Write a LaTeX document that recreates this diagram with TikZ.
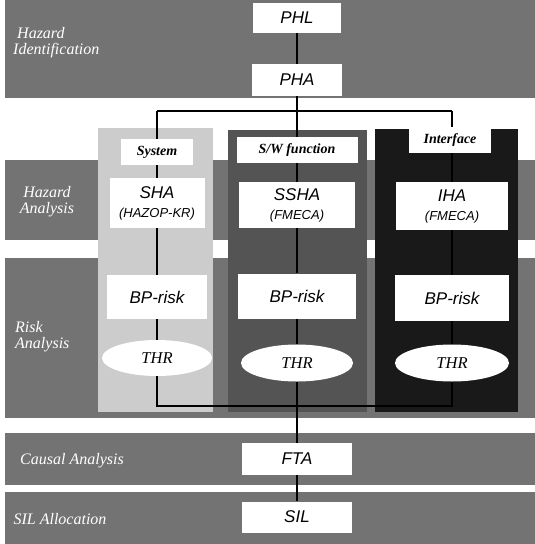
\documentclass[tikz,border=0pt]{standalone}
\usepackage{fontspec}
\setmainfont{Liberation Serif}
\setsansfont{Liberation Sans}
\usetikzlibrary{shapes.geometric}
\definecolor{bandc}{gray}{0.45}
\definecolor{syscol}{gray}{0.80}
\definecolor{swcol}{gray}{0.33}
\definecolor{ifcol}{gray}{0.10}
\tikzset{
  wbox/.style={fill=white, inner sep=0pt, align=center, font=\sffamily\itshape\fontsize{17}{18}\selectfont},
  headbox/.style={fill=white, inner sep=0pt, font=\rmfamily\bfseries\itshape\fontsize{14}{15}\selectfont},
  thrbox/.style={ellipse, fill=white, inner sep=0pt, font=\rmfamily\itshape\fontsize{16.5}{17}\selectfont},
  bandlabel/.style={text=white, inner sep=0pt, font=\rmfamily\itshape\fontsize{16}{16}\selectfont},
  conn/.style={draw=black, line width=2.2pt},
}
\newcommand{\subtxt}[1]{{\fontsize{13}{14}\selectfont #1}}
\begin{document}
\begin{tikzpicture}[x=1pt,y=-1pt]
\useasboundingbox (0,0) rectangle (535,544);
% bands
\fill[bandc] (5,0) rectangle (535,98);
\fill[bandc] (5,160) rectangle (535,240);
\fill[bandc] (5,258) rectangle (535,418);
\fill[bandc] (5,433) rectangle (535,485);
\fill[bandc] (5,492) rectangle (535,544);
% columns
\fill[syscol] (98,128) rectangle (213,412);
\fill[swcol] (228,130) rectangle (367,412);
\fill[ifcol] (375,129) rectangle (518,412);
% band labels
\node[bandlabel, align=left, anchor=north west] (lab1) at (13,27) {\hspace*{4pt}Hazard\\Identification};
\node[bandlabel, align=center] (lab2) at (47,202) {Hazard\\Analysis};
\node[bandlabel, align=left, anchor=north west] (lab3) at (15,321) {Risk\\Analysis};
\node[bandlabel] (lab4) at (72,461) {Causal Analysis};
\node[bandlabel] (lab5) at (60,519) {SIL Allocation};
% top
\node[wbox, minimum width=88, minimum height=30] (phl) at (297,18) {PHL};
\node[wbox, minimum width=90, minimum height=32] (pha) at (297,80) {PHA};
% headers
\node[headbox, minimum width=72, minimum height=26] (syshead) at (157,152) {System};
\node[headbox, minimum width=121, minimum height=26] (swhead) at (297,150) {S/W function};
\node[headbox, minimum width=82, minimum height=26] (ifhead) at (450,140) {Interface};
% analysis boxes
\node[wbox, minimum width=95, minimum height=50] (sha) at (157,203) {SHA\\[1pt]\subtxt{(HAZOP-KR)}};
\node[wbox, minimum width=116, minimum height=46] (ssha) at (297,205) {SSHA\\[1pt]\subtxt{(FMECA)}};
\node[wbox, minimum width=112, minimum height=48] (iha) at (452,206) {IHA\\[1pt]\subtxt{(FMECA)}};
% BP-risk
\node[wbox, minimum width=100, minimum height=44] (sysbp) at (157,297) {BP-risk};
\node[wbox, minimum width=118, minimum height=45] (swbp) at (297,296) {BP-risk};
\node[wbox, minimum width=114, minimum height=46] (ifbp) at (452,298) {BP-risk};
% THR
\node[thrbox, minimum width=110, minimum height=36] (systhr) at (157,358) {THR};
\node[thrbox, minimum width=112, minimum height=37] (swthr) at (297,363) {THR};
\node[thrbox, minimum width=114, minimum height=37] (ifthr) at (452,363) {THR};
% bottom
\node[wbox, minimum width=110, minimum height=32] (fta) at (297,459) {FTA};
\node[wbox, minimum width=110, minimum height=31] (sil) at (297,517) {SIL};
% connectors
\coordinate (jl) at (157,111);
\coordinate (jr) at (452,111);
\coordinate (bl) at (157,406);
\coordinate (br) at (452,406);
\draw[conn] (phl) -- (pha);
\draw[conn] (pha) -- (swhead);
\draw[conn] (jl) -- (jr);
\draw[conn] (jl) -- (syshead);
\draw[conn] (jr) -- (jr |- ifhead.north);
\draw[conn] (syshead) -- (sha);
\draw[conn] (sha) -- (sysbp);
\draw[conn] (sysbp) -- (systhr);
\draw[conn] (swhead) -- (ssha);
\draw[conn] (ssha) -- (swbp);
\draw[conn] (swbp) -- (swthr);
\draw[conn] (ifhead.south -| iha) -- (iha);
\draw[conn] (iha) -- (ifbp);
\draw[conn] (ifbp) -- (ifthr);
\draw[conn, line join=miter] (systhr) -- (bl) -- (br) -- (ifthr);
\draw[conn] (swthr) -- (fta);
\draw[conn] (fta) -- (sil);
\end{tikzpicture}
\end{document}
